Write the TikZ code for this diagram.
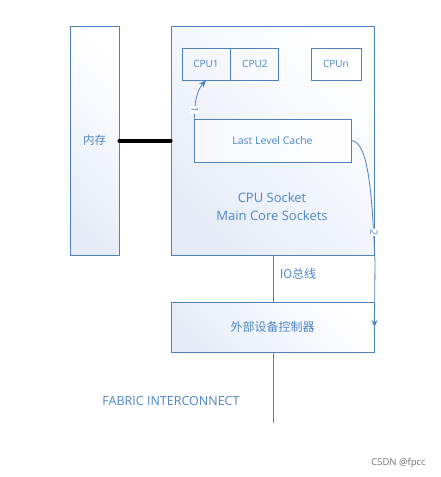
\documentclass[tikz,border=0pt]{standalone}
\usepackage{fontspec}
\setmainfont{Open Sans}
\newfontfamily\cjk{Noto Sans CJK SC}
\usetikzlibrary{arrows.meta}
\definecolor{boxline}{RGB}{79,129,189}
\definecolor{boxtop}{RGB}{230,236,247}
\definecolor{txtblue}{RGB}{78,134,200}
\tikzset{
    panel/.style={draw=boxline, line width=0.9pt, shading=axis, left color=boxtop, right color=white, shading angle=135, text=txtblue},
    cpubox/.style={draw=boxline, line width=0.9pt, minimum width=48pt, minimum height=32pt, text=txtblue, font=\fontsize{10}{12}\selectfont},
    wire/.style={draw=boxline, line width=0.9pt},
    flow/.style={draw=boxline, line width=0.8pt, -{Stealth[length=7pt,width=6pt]}},
    tag/.style={text=txtblue},
    steplabel/.style={fill=white, inner sep=0.8pt, text=txtblue, rotate=-95, font=\fontsize{10}{11}\selectfont}
}
\begin{document}
\begin{tikzpicture}[x=1pt,y=-1pt]
    \useasboundingbox[fill=white] (0,0) rectangle (441,477);
    %% Memory and Socket
    \node[panel, minimum width=49pt, minimum height=229pt, font=\cjk\fontsize{11.5}{13}\selectfont] (mem) at (94.5,140.5) {内存};
    \node[panel, minimum width=203pt, minimum height=229pt] (socket) at (272.5,140.5) {};
    \node[tag, align=center, font=\fontsize{13}{18}\selectfont] (sockettxt) at (272,207) {CPU Socket\\Main Core Sockets};
    %% Cores
    \node[cpubox] (cpu1) at (206,64) {CPU1};
    \node[cpubox, anchor=west] (cpu2) at (cpu1.east) {CPU2};
    \node[cpubox, minimum width=50pt] (cpun) at (336,64) {CPUn};
    \node[panel, shading angle=90, left color=boxtop!40, minimum width=157pt, minimum height=43pt, font=\fontsize{10.5}{12}\selectfont] (llc) at (272.5,140.5) {Last Level Cache};
    %% Memory bus
    \draw[line width=4pt, line cap=round] (mem.east) -- (socket.west);
    %% IO controller
    \node[panel, minimum width=203pt, minimum height=50pt, font=\cjk\fontsize{12}{14}\selectfont] (ctrl) at (272.5,327) {外部设备控制器};
    \draw[wire] (socket.south -| 273,0) -- (ctrl.north -| 273,0) node[pos=0.4, right=3pt, tag, font=\cjk\fontsize{12}{14}\selectfont] (iobus) {IO总线};
    \coordinate (fabricend) at (273,423);
    \draw[wire] (ctrl.south -| 273,0) -- (fabricend);
    \node[tag, font=\fontsize{12.5}{14}\selectfont] (fabric) at (171,401) {FABRIC INTERCONNECT};
    %% Data paths
    \draw[flow] (llc.north west) ++(1,0) .. controls (194,104) and (197,90) .. (cpu1.south)
        node[pos=0.2, steplabel] {1};
    \draw[flow] (llc.east) .. controls (368,142) and (372,190) .. (375,262)
        node[pos=0.87, steplabel, xshift=-3pt] {2} -- (ctrl.east);
    \node[text=black!55, font=\fontsize{9.5}{11}\selectfont] (csdn) at (398.5,463) {CSDN @fpcc};
\end{tikzpicture}
\end{document}
